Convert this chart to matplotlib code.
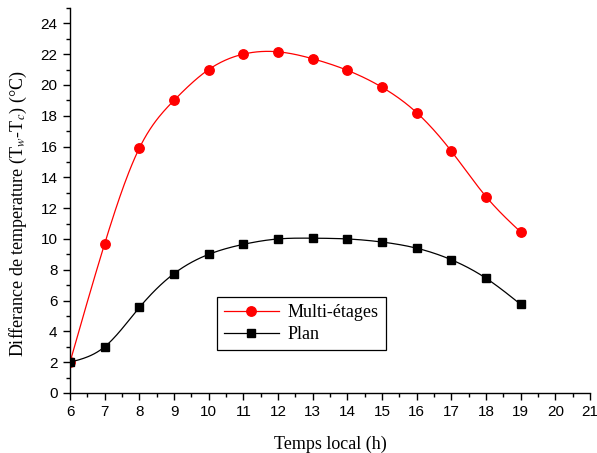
import numpy as np
import matplotlib.pyplot as plt
from matplotlib.ticker import MultipleLocator

hours = [6, 7, 8, 9, 10, 11, 12, 13, 14, 15, 16, 17, 18, 19]
multi_etages = [2.0, 9.7, 15.9, 19.0, 21.0, 22.0, 22.15, 21.7, 20.95, 19.85, 18.2, 15.7, 12.75, 10.45]
plan = [2.0, 3.0, 5.55, 7.75, 9.0, 9.65, 10.0, 10.05, 10.0, 9.8, 9.4, 8.65, 7.45, 5.75]


def natural_spline(x, y, n=300):
    # natural cubic spline through the points, just for the smooth line
    x = np.asarray(x, float)
    y = np.asarray(y, float)
    k = len(x)
    h = np.diff(x)
    A = np.zeros((k, k))
    b = np.zeros(k)
    A[0, 0] = A[-1, -1] = 1
    for i in range(1, k - 1):
        A[i, i - 1] = h[i - 1]
        A[i, i] = 2 * (h[i - 1] + h[i])
        A[i, i + 1] = h[i]
        b[i] = 3 * ((y[i + 1] - y[i]) / h[i] - (y[i] - y[i - 1]) / h[i - 1])
    c = np.linalg.solve(A, b)
    xs = np.linspace(x[0], x[-1], n)
    idx = np.clip(np.searchsorted(x, xs) - 1, 0, k - 2)
    dx = xs - x[idx]
    hi = h[idx]
    bb = (y[idx + 1] - y[idx]) / hi - hi * (2 * c[idx] + c[idx + 1]) / 3
    dd = (c[idx + 1] - c[idx]) / (3 * hi)
    ys = y[idx] + bb * dx + c[idx] * dx ** 2 + dd * dx ** 3
    return xs, ys


plt.rcParams["mathtext.fontset"] = "stix"

fig = plt.figure(figsize=(5.97, 4.53), dpi=100)
ax = fig.add_axes([0.1173, 0.1325, 0.871, 0.85])

series = [
    (multi_etages, "red", "o", 6.8, "Multi-étages"),
    (plan, "black", "s", 6.0, "Plan"),
]
for vals, col, mk, ms, name in series:
    xs, ys = natural_spline(hours, vals)
    ax.plot(xs, ys, color=col, lw=0.9)
    ax.plot(hours, vals, linestyle="none", marker=mk, color=col, ms=ms)
    # legend proxy
    ax.plot([], [], color=col, lw=0.9, marker=mk, ms=ms, label=name)

ax.set_xlim(6, 21)
ax.set_ylim(0, 25)
ax.xaxis.set_major_locator(MultipleLocator(1))
ax.xaxis.set_minor_locator(MultipleLocator(0.5))
ax.yaxis.set_major_locator(MultipleLocator(2))
ax.yaxis.set_minor_locator(MultipleLocator(1))
ax.tick_params(which="major", direction="out", length=5, width=1, pad=4,
               labelsize=11, labelfontfamily="Liberation Sans")
ax.tick_params(which="minor", direction="out", length=3, width=1)

ax.spines["top"].set_visible(False)
ax.spines["right"].set_visible(False)
for s in ("left", "bottom"):
    ax.spines[s].set_linewidth(1)

ax.set_xlabel("Temps local (h)", fontsize=13, family="Liberation Serif", labelpad=12)
ax.set_ylabel("Differance de temperature (T$_w$-T$_c$) (°C)", fontsize=13,
              family="Liberation Serif")
ax.yaxis.set_label_coords(-0.078, 0.465)

leg = ax.legend(loc="upper left", bbox_to_anchor=(0.283, 0.249), borderaxespad=0,
                prop={"family": "Liberation Serif", "size": 13}, fancybox=False,
                framealpha=1, edgecolor="black", handlelength=3.0,
                borderpad=0.4, labelspacing=0.25, handletextpad=0.5)
leg.get_frame().set_linewidth(0.9)

fig.savefig("out.png", dpi=100)
